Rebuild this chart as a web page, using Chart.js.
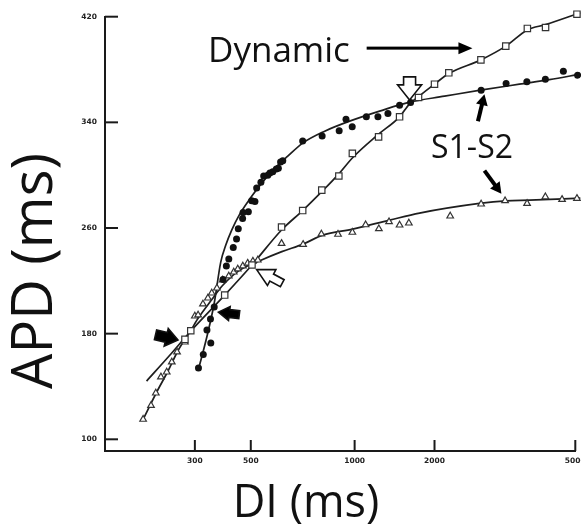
<!DOCTYPE html>
<html>
<head>
<meta charset="utf-8">
<style>
  html, body { margin: 0; padding: 0; background: #ffffff; overflow: hidden; }
  #wrap { width: 581px; height: 525px; position: relative; }
</style>
<script src="https://cdn.jsdelivr.net/npm/chart.js@4.4.1/dist/chart.umd.min.js"></script>
</head>
<body>
<div id="wrap"><canvas id="c" width="581" height="525"></canvas></div>
<script>
// ---------------- DATA ----------------
// Filled circles (S1-S2)
const circleDI  = [310, 324, 347, 335, 346, 358, 388, 400, 409, 426, 439, 446, 464, 466, 489, 503, 514, 520, 535, 545, 560, 568, 579, 593, 601, 610, 619, 707, 805, 902, 944, 984, 1107, 1224, 1335, 1477, 1625, 2709, 3187, 3648, 4115, 4626, 5076];
const circleAPD = [154.0, 164.2, 172.9, 182.7, 191.1, 200.1, 221.0, 231.2, 236.5, 245.2, 251.6, 259.5, 267.1, 271.7, 272.3, 280.7, 280.0, 290.2, 294.7, 299.3, 300.0, 301.6, 302.5, 304.6, 305.3, 309.9, 311.0, 325.8, 329.6, 333.7, 342.4, 336.6, 344.2, 344.3, 346.7, 353.0, 355.1, 364.4, 369.4, 370.7, 372.7, 378.7, 375.7];
// Open squares (Dynamic)
const squareDI  = [274, 289, 394, 504, 614, 707, 803, 900, 985, 1231, 1477, 1741, 2000, 2195, 2705, 3180, 3660, 4120, 5054];
const squareAPD = [175.7, 182.2, 209.2, 232.0, 260.7, 273.2, 288.7, 299.4, 316.5, 329.0, 344.2, 358.8, 368.9, 377.5, 387.3, 397.7, 411.1, 411.8, 421.9];
// Open triangles (S1-S2)
const triangleDI  = [187, 201, 210, 220, 232, 243, 255, 274, 300, 309, 323, 338, 350, 367, 387, 409, 428, 444, 465, 486, 507, 524, 614, 709, 801, 895, 985, 1100, 1234, 1348, 1477, 1601, 2215, 2709, 3166, 3653, 4115, 4587, 5054];
const triangleAPD = [115.1, 125.6, 135.0, 147.2, 150.9, 158.5, 166.1, 173.6, 193.3, 194.1, 202.4, 206.9, 210.7, 214.5, 220.6, 223.6, 226.6, 228.9, 231.2, 233.4, 234.9, 235.7, 248.3, 247.6, 255.4, 255.2, 256.7, 262.4, 259.4, 264.7, 262.2, 263.7, 269.0, 278.1, 280.6, 278.6, 283.6, 281.6, 282.4];
// Fitted curves
const circleFitDI  = [311, 335, 358, 380, 398, 420, 452, 495, 538, 587, 640, 707, 819, 967, 1242, 1611, 2135, 2697, 3475, 4224, 5166];
const circleFitAPD = [154.0, 177.8, 203.0, 234.2, 247.1, 258.4, 270.5, 281.9, 294.0, 305.3, 314.4, 324.3, 333.3, 340.9, 348.5, 355.3, 359.8, 364.4, 368.9, 372.3, 376.5];
const squareFitDI  = [193, 239, 289, 394, 504, 614, 707, 803, 900, 985, 1231, 1477, 1611, 1741, 2000, 2195, 2705, 3180, 3660, 4120, 5166];
const squareFitAPD = [144.1, 163.8, 182.0, 209.2, 232.0, 258.5, 273.2, 287.5, 301.0, 313.0, 331.0, 344.2, 354.0, 359.5, 368.9, 377.0, 387.3, 397.7, 410.0, 414.0, 423.0];
const triangleFitDI  = [187, 212, 235, 258, 287, 309, 349, 388, 452, 531, 615, 709, 808, 987, 1355, 1756, 2679, 3187, 3708, 5166];
const triangleFitAPD = [115.1, 136.0, 151.9, 167.6, 181.4, 191.6, 205.4, 216.8, 228.1, 235.2, 242.1, 247.8, 254.6, 259.2, 266.0, 271.3, 278.6, 280.6, 281.1, 282.6];
// Tick labels
const xTicks = [300, 500, 1000, 2000, 5000];
const yTicks = [100, 180, 260, 340, 420];

// ---------------- SCALE ----------------
// The printed DI axis is not a uniform log axis: anchors (value -> fraction of axis)
const X_ANCHOR_VALUES = [132, 300, 500, 1000, 2000, 5000];
const X_ANCHOR_FRACTIONS = [0, 0.19108, 0.30998, 0.53079, 0.70064, 1];
const X_ANCHOR_LOGS = X_ANCHOR_VALUES.map(v => Math.log10(v));

class BrokenLogScale extends Chart.LogarithmicScale {
  getPixelForValue(value) {
    if (value === undefined || value === null || !(value > 0)) return NaN;
    const L = Math.log10(value);
    const A = X_ANCHOR_LOGS, F = X_ANCHOR_FRACTIONS;
    let i = 0;
    while (i < A.length - 2 && L > A[i + 1]) i++;
    const dec = F[i] + (L - A[i]) * (F[i + 1] - F[i]) / (A[i + 1] - A[i]);
    return this.getPixelForDecimal(dec);
  }
  getValueForPixel(pixel) {
    const dec = this.getDecimalForPixel(pixel);
    const A = X_ANCHOR_LOGS, F = X_ANCHOR_FRACTIONS;
    let i = 0;
    while (i < F.length - 2 && dec > F[i + 1]) i++;
    const L = A[i] + (dec - F[i]) * (A[i + 1] - A[i]) / (F[i + 1] - F[i]);
    return Math.pow(10, L);
  }
}
BrokenLogScale.id = 'brokenLog';
BrokenLogScale.defaults = Chart.LogarithmicScale.defaults;
Chart.register(BrokenLogScale);

const pts = (xs, ys) => xs.map((x, i) => ({ x: x, y: ys[i] }));

// ---------------- ANNOTATIONS ----------------
const TITLE_FONT = "'Open Sans', 'Liberation Sans', sans-serif";
const annotationPlugin = {
  id: 'annotations',
  afterDraw(chart) {
    const ctx = chart.ctx;
    const xs = chart.scales.x, ys = chart.scales.y;
    const area = chart.chartArea;
    const P = (d, a) => [xs.getPixelForValue(d), ys.getPixelForValue(a)];
    ctx.save();
    // inner tick marks
    ctx.strokeStyle = '#1a1a1a';
    ctx.lineWidth = 2;
    ctx.lineCap = 'butt';
    yTicks.forEach(v => {
      const y = ys.getPixelForValue(v);
      ctx.beginPath(); ctx.moveTo(area.left, y); ctx.lineTo(area.left + 13, y); ctx.stroke();
    });
    xTicks.forEach(v => {
      const x = xs.getPixelForValue(v);
      ctx.beginPath(); ctx.moveTo(x, area.bottom); ctx.lineTo(x, area.bottom - 11); ctx.stroke();
    });

    // axis titles
    ctx.fillStyle = '#111';
    ctx.textAlign = 'center';
    ctx.textBaseline = 'middle';
    ctx.font = "56px " + TITLE_FONT;
    ctx.save();
    ctx.translate(36, 271);
    ctx.rotate(-Math.PI / 2);
    ctx.fillText('APD (ms)', 0, 0);
    ctx.restore();
    ctx.font = "45px " + TITLE_FONT;
    ctx.textBaseline = 'alphabetic';
    ctx.fillText('DI (ms)', 306, 517);

    // labels
    ctx.textAlign = 'left';
    ctx.font = "35px " + TITLE_FONT;
    ctx.fillText('Dynamic', 208, 62);
    ctx.font = "32px " + TITLE_FONT;
    ctx.fillText('S1-S2', 431, 158);

    // line arrows
    const lineArrow = (tail, tip, w, headLen, headW) => {
      const [x0, y0] = P(tail[0], tail[1]);
      const [x1, y1] = P(tip[0], tip[1]);
      const ang = Math.atan2(y1 - y0, x1 - x0);
      const len = Math.hypot(x1 - x0, y1 - y0);
      ctx.save();
      ctx.translate(x1, y1); ctx.rotate(ang);
      ctx.fillStyle = '#000';
      ctx.fillRect(-len, -w / 2, len - headLen + 1, w);
      ctx.beginPath();
      ctx.moveTo(0, 0); ctx.lineTo(-headLen, headW / 2); ctx.lineTo(-headLen, -headW / 2); ctx.closePath();
      ctx.fill();
      ctx.restore();
    };
    lineArrow([1110, 396.2], [2560, 396.2], 3, 14, 12);
    lineArrow([2653, 340.9], [2768, 361.3], 4, 11, 12);
    lineArrow([2768, 303.4], [3091, 286.0], 4, 11, 12);

    // block arrows
    const blockArrow = (tip, angDeg, L, h, W, s, fill) => {
      const [tx, ty] = P(tip[0], tip[1]);
      ctx.save();
      ctx.translate(tx, ty); ctx.rotate(angDeg * Math.PI / 180);
      ctx.beginPath();
      ctx.moveTo(0, 0);
      ctx.lineTo(-h, W / 2); ctx.lineTo(-h, s / 2); ctx.lineTo(-L, s / 2);
      ctx.lineTo(-L, -s / 2); ctx.lineTo(-h, -s / 2); ctx.lineTo(-h, -W / 2);
      ctx.closePath();
      ctx.fillStyle = fill ? '#000' : '#fff';
      ctx.fill();
      ctx.lineWidth = 1.6; ctx.strokeStyle = '#111'; ctx.lineJoin = 'miter';
      ctx.stroke();
      ctx.restore();
    };
    blockArrow([1611, 357.0], 90, 23, 15, 24, 12, false);
    blockArrow([520, 228.5], 208, 29, 17, 18, 8, false);
    blockArrow([257, 175.2], 13, 23, 12, 18, 10, true);
    blockArrow([372, 196.3], 187, 21, 11, 14, 8, true);
    ctx.restore();
  }
};

const fitStyle = {
  showLine: true, pointRadius: 0, borderColor: '#1e1e1e', borderWidth: 1.7,
  cubicInterpolationMode: 'monotone', clip: false, order: 2, fill: false
};

new Chart(document.getElementById('c'), {
  type: 'scatter',
  data: {
    datasets: [
      Object.assign({ label: 'S1-S2 (circles) fit', data: pts(circleFitDI, circleFitAPD) }, fitStyle),
      Object.assign({ label: 'Dynamic fit', data: pts(squareFitDI, squareFitAPD) }, fitStyle),
      Object.assign({ label: 'S1-S2 (triangles) fit', data: pts(triangleFitDI, triangleFitAPD) }, fitStyle),
      { label: 'S1-S2 (circles)', data: pts(circleDI, circleAPD), showLine: false, pointStyle: 'circle',
        pointRadius: 3.5, backgroundColor: '#111', borderColor: '#111', borderWidth: 0, clip: false, order: 1 },
      { label: 'Dynamic', data: pts(squareDI, squareAPD), showLine: false, pointStyle: 'rect',
        pointRadius: 4.5, backgroundColor: '#fff', borderColor: '#333', borderWidth: 1.2, clip: false, order: 1 },
      { label: 'S1-S2 (triangles)', data: pts(triangleDI, triangleAPD), showLine: false, pointStyle: 'triangle',
        pointRadius: 3.8, backgroundColor: '#fff', borderColor: '#333', borderWidth: 1.2, clip: false, order: 1 }
    ]
  },
  options: {
    responsive: false,
    animation: false,
    events: [],
    layout: { padding: { left: 0, right: 5, top: 16.7, bottom: 0 } },
    plugins: { legend: { display: false }, tooltip: { enabled: false } },
    scales: {
      x: {
        type: 'brokenLog', position: 'bottom', min: 132, max: 5000,
        grid: { display: false, drawTicks: false },
        border: { display: true, color: '#1a1a1a', width: 2 },
        afterBuildTicks: (s) => { s.ticks = xTicks.map(v => ({ value: v })); },
        afterFit: (s) => { s.height = 74; s.paddingLeft = 0; s.paddingRight = 0; },
        ticks: {
          autoSkip: false, maxRotation: 0, padding: 6, color: '#222',
          font: { family: "'DejaVu Sans'", size: 7.5, weight: 'bold' },
          callback: (v) => String(v)
        }
      },
      y: {
        type: 'linear', position: 'left', min: 91.14, max: 420,
        grid: { display: false, drawTicks: false },
        border: { display: true, color: '#1a1a1a', width: 2 },
        afterBuildTicks: (s) => { s.ticks = yTicks.map(v => ({ value: v })); },
        afterFit: (s) => { s.width = 105; s.paddingTop = 0; s.paddingBottom = 0; },
        ticks: {
          padding: 8, color: '#222',
          font: { family: "'DejaVu Sans'", size: 7.5, weight: 'bold' },
          callback: (v) => String(v)
        }
      }
    }
  },
  plugins: [annotationPlugin]
});
</script>
</body>
</html>
